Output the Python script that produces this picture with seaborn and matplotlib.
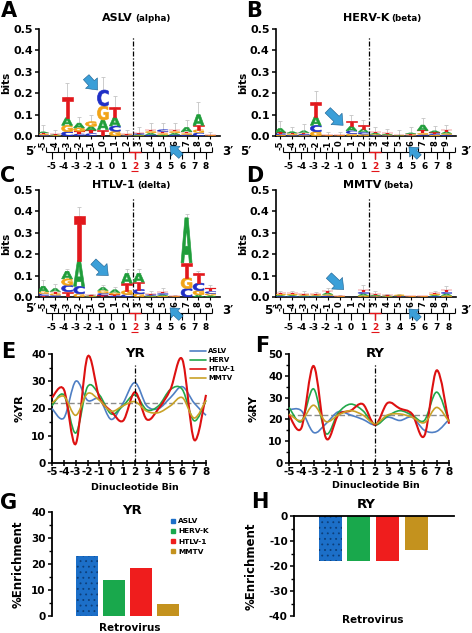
"""
Retroviral integration site preferences: sequence logos (A-D),
dinucleotide frequency profiles (E-F) and YR / RY enrichment (G-H).
"""

import numpy as np
import pandas as pd
import matplotlib
matplotlib.use("Agg")
import matplotlib.pyplot as plt
import seaborn as sns
from matplotlib.font_manager import FontProperties
from matplotlib.lines import Line2D
from matplotlib.patches import PathPatch
from matplotlib.path import Path
from matplotlib.textpath import TextPath
from matplotlib.transforms import Affine2D
from matplotlib.ticker import MultipleLocator

# -----------------------------
# Data
# -----------------------------

POSITIONS = list(range(-5, 10))
BINS = list(range(-5, 9))
BASES = ["A", "C", "G", "T"]
HIGHLIGHT_BIN = 2

# letter heights (bits) per logo position, -5 .. 9
ASLV_A = [0.006, 0.003, 0.035, 0.022, 0.018, 0.045, 0.040, 0.002, 0.004, 0.008, 0.006, 0.008, 0.020, 0.050, 0.001]
ASLV_C = [0.004, 0.002, 0.020, 0.010, 0.012, 0.075, 0.025, 0.002, 0.004, 0.006, 0.010, 0.006, 0.006, 0.015, 0.001]
ASLV_G = [0.005, 0.002, 0.030, 0.016, 0.022, 0.065, 0.022, 0.002, 0.003, 0.008, 0.006, 0.008, 0.006, 0.015, 0.001]
ASLV_T = [0.005, 0.003, 0.095, 0.012, 0.015, 0.030, 0.048, 0.002, 0.004, 0.008, 0.008, 0.008, 0.008, 0.020, 0.001]
ASLV_ERR = [0.05, 0.03, 0.25, 0.09, 0.10, 0.275, 0.185, 0.03, 0.04, 0.06, 0.06, 0.06, 0.075, 0.16, 0.02]

HERVK_A = [0.018, 0.008, 0.010, 0.040, 0.001, 0.001, 0.020, 0.015, 0.006, 0.004, 0.002, 0.005, 0.025, 0.008, 0.008]
HERVK_C = [0.006, 0.004, 0.005, 0.030, 0.001, 0.001, 0.015, 0.010, 0.004, 0.003, 0.001, 0.003, 0.006, 0.006, 0.006]
HERVK_G = [0.005, 0.004, 0.004, 0.020, 0.001, 0.001, 0.010, 0.008, 0.004, 0.003, 0.001, 0.003, 0.008, 0.005, 0.006]
HERVK_T = [0.006, 0.005, 0.006, 0.070, 0.001, 0.001, 0.025, 0.017, 0.006, 0.004, 0.002, 0.004, 0.012, 0.006, 0.010]
HERVK_ERR = [0.07, 0.04, 0.055, 0.21, 0.02, 0.02, 0.10, 0.075, 0.04, 0.035, 0.03, 0.04, 0.085, 0.045, 0.05]

HTLV_A = [0.025, 0.015, 0.035, 0.120, 0.003, 0.015, 0.015, 0.045, 0.040, 0.004, 0.006, 0.001, 0.210, 0.010, 0.008]
HTLV_C = [0.008, 0.008, 0.030, 0.035, 0.002, 0.010, 0.006, 0.012, 0.020, 0.004, 0.006, 0.001, 0.040, 0.035, 0.010]
HTLV_G = [0.010, 0.008, 0.030, 0.015, 0.002, 0.012, 0.008, 0.018, 0.015, 0.003, 0.005, 0.001, 0.050, 0.020, 0.008]
HTLV_T = [0.007, 0.009, 0.025, 0.210, 0.003, 0.008, 0.006, 0.035, 0.035, 0.004, 0.008, 0.001, 0.070, 0.045, 0.014]
HTLV_ERR = [0.08, 0.06, 0.13, 0.42, 0.015, 0.055, 0.045, 0.13, 0.13, 0.03, 0.04, 0.01, 0.39, 0.12, 0.055]

MMTV_A = [0.005, 0.005, 0.004, 0.004, 0.008, 0.001, 0.0, 0.008, 0.004, 0.003, 0.003, 0.001, 0.001, 0.005, 0.008]
MMTV_C = [0.004, 0.004, 0.003, 0.003, 0.006, 0.001, 0.0, 0.008, 0.003, 0.002, 0.002, 0.001, 0.001, 0.004, 0.008]
MMTV_G = [0.005, 0.005, 0.004, 0.004, 0.006, 0.001, 0.0, 0.007, 0.003, 0.002, 0.003, 0.001, 0.001, 0.005, 0.007]
MMTV_T = [0.006, 0.006, 0.004, 0.004, 0.010, 0.001, 0.0, 0.012, 0.005, 0.003, 0.002, 0.001, 0.001, 0.006, 0.012]
MMTV_ERR = [0.03, 0.03, 0.03, 0.025, 0.04, 0.01, 0.0, 0.055, 0.03, 0.015, 0.015, 0.005, 0.005, 0.03, 0.05]

# %YR / %RY per dinucleotide bin, -5 .. 8
LINE_LABELS = ["ASLV", "HERV", "HTLV-1", "MMTV"]
YR_ASLV = [20, 16.5, 30, 23, 23.5, 16, 22, 29.5, 21, 20, 24, 28, 22, 17.5]
YR_HERV = [21, 25, 11, 28, 25, 18, 21, 25, 19.5, 21, 27, 27, 15.5, 23]
YR_HTLV = [24, 27, 7, 39, 24, 19, 15.5, 26, 16, 20, 27, 38, 8.5, 25]
YR_MMTV = [22, 24.5, 17.5, 25.5, 23, 19, 21, 22.5, 19, 18.5, 21, 24, 16.5, 23]
YR_BASELINE = 22

RY_ASLV = [24.5, 24, 14, 18, 23.5, 22, 20, 17.5, 21, 19.5, 21, 15, 14.5, 20]
RY_HERV = [25.5, 19, 34, 13.5, 23, 27, 24, 17.5, 21.5, 24, 22, 19.5, 32.5, 19]
RY_HTLV = [22, 16, 44.5, 11.5, 22, 24, 27, 17.5, 27.5, 25, 22.5, 12.5, 42.5, 18]
RY_MMTV = [22.5, 19.5, 26.5, 19, 22, 24, 22, 18, 22, 22.5, 21, 18.5, 25.5, 19]
RY_BASELINE = 22

# % enrichment at the target bin
VIRUSES = ["ASLV", "HERV-K", "HTLV-1", "MMTV"]
YR_ENRICH = [23.1, 13.8, 18.6, 4.8]
RY_ENRICH = [-18.0, -18.0, -18.0, -13.7]

# -----------------------------
# Style
# -----------------------------

W, H = 472, 633
RED = "#e3151a"
LETTER_COLORS = {"A": "#1f9d3a", "C": "#1f2fc6", "G": "#f2a417", "T": "#e2181c"}
LINE_COLORS = ["#4f7fc4", "#22a84a", "#dd1111", "#c9a227"]
BAR_COLORS = ["#1c6fc8", "#19a84c", "#ef1d1d", "#c4921e"]
ARROW_FC, ARROW_EC = "#3b9fd8", "#1b5f8f"
DASHDOT = (0, (4, 1.5, 1, 1.5))

sns.set_theme(style="ticks", rc={
    "axes.edgecolor": "black", "xtick.color": "black", "ytick.color": "black",
    "text.color": "black", "axes.labelcolor": "black",
})
plt.rcParams["font.family"] = ["DejaVu Sans"]
plt.rcParams["font.weight"] = "bold"
plt.rcParams["axes.labelweight"] = "bold"
plt.rcParams["axes.unicode_minus"] = False
plt.rcParams["hatch.linewidth"] = 0.6

LETTER_FONT = FontProperties(family="DejaVu Sans", weight="bold")
LETTER_WIDTH = 0.92


def fig_box(left, top, right, bottom):
    """Axes rectangle from pixel edges (origin top-left)."""
    return [left / W, 1 - bottom / H, (right - left) / W, (bottom - top) / H]


def fig_xy(x, y):
    return x / W, 1 - y / H


# -----------------------------
# Sequence logos
# -----------------------------

def add_letter(ax, letter, x, y0, height):
    path = TextPath((0, 0), letter, size=1, prop=LETTER_FONT)
    ext = path.get_extents()
    trans = (Affine2D().translate(-ext.x0, -ext.y0)
             .scale(LETTER_WIDTH / ext.width, height / ext.height)
             .translate(x - LETTER_WIDTH / 2, y0))
    color = LETTER_COLORS[letter]
    # thin stroke in the fill colour makes the larger glyphs read as heavy type
    stroke = 0.45 if height > 0.015 else 0.15
    ax.add_patch(PathPatch(trans.transform_path(path), facecolor=color,
                           edgecolor=color, lw=stroke, zorder=3))


def draw_logo(ax, heights, err_top, arrow):
    totals = np.zeros(len(POSITIONS))
    for i, pos in enumerate(POSITIONS):
        column = sorted((heights[b][i], b) for b in BASES)
        y0 = 0.0
        for h, b in column:
            if h > 0:
                add_letter(ax, b, pos, y0, h)
            y0 += h
        totals[i] = y0
    upper = np.clip(np.asarray(err_top) - totals, 0, None)
    ax.errorbar(POSITIONS, totals, yerr=[np.zeros_like(totals), upper], fmt="none",
                ecolor="#c4c4c4", elinewidth=0.6, capsize=1.2, capthick=0.6, zorder=2)

    ax.set_xlim(-5.35, 9.8)
    ax.set_ylim(0, 0.5)
    ax.set_yticks(np.arange(0, 0.51, 0.1))
    ax.set_yticklabels([f"{v:.1f}" for v in np.arange(0, 0.51, 0.1)])
    ax.set_xticks(POSITIONS)
    ax.set_xticklabels([str(p) for p in POSITIONS])
    ax.tick_params(axis="x", length=2, width=0.8, pad=1, labelsize=6, labelrotation=90)
    ax.tick_params(axis="y", length=3, width=1.1, pad=1.5, labelsize=8)
    ax.set_ylabel("bits", fontsize=7.5, labelpad=1)
    for side in ["top", "right"]:
        ax.spines[side].set_visible(False)
    for side in ["left", "bottom"]:
        ax.spines[side].set_linewidth(1.2)

    # boundary between position 2 and 3, runs down into the bracket row
    ax.plot([2.5, 2.5], [-0.045, 0.465], color="black", lw=0.9, ls=DASHDOT, clip_on=False)

    tail, head = arrow
    ax.annotate("", xy=head, xytext=tail,
                arrowprops=dict(arrowstyle="simple,head_length=0.55,head_width=0.95,tail_width=0.45",
                                fc=ARROW_FC, ec=ARROW_EC, lw=0.4, shrinkA=0, shrinkB=0),
                annotation_clip=False)


def draw_brackets(bx):
    edges = np.array(BINS + [BINS[-1] + 1]) - 0.5
    kw = dict(color="black", lw=0.8, clip_on=False)
    bx.vlines(edges, 1, 6, **kw)
    bx.hlines(6, edges[0], edges[-1], **kw)
    bx.vlines(BINS, 6, 13, **kw)
    red = dict(color=RED, lw=1.0, clip_on=False, zorder=3)
    bx.hlines(6, HIGHLIGHT_BIN - 0.5, HIGHLIGHT_BIN + 0.5, **red)
    bx.vlines([HIGHLIGHT_BIN], 6, 13, **red)
    for b in BINS:
        bx.text(b, 21.5, str(b), ha="center", va="center", fontsize=6.5,
                color=RED if b == HIGHLIGHT_BIN else "black")
    bx.hlines(26, HIGHLIGHT_BIN - 0.3, HIGHLIGHT_BIN + 0.3, color=RED, lw=0.8, clip_on=False)
    bx.set_xlim(BINS[0], BINS[-1])
    bx.set_ylim(27, 0)
    bx.axis("off")


def bracket_arrow(fig, tail, head):
    fig.add_artist(matplotlib.patches.FancyArrowPatch(
        fig_xy(*tail), fig_xy(*head), transform=fig.transFigure,
        arrowstyle="simple,head_length=0.55,head_width=0.95,tail_width=0.45",
        mutation_scale=10, fc=ARROW_FC, ec=ARROW_EC, lw=0.4))


# -----------------------------
# Dinucleotide profiles
# -----------------------------

def smooth_path(xs, ys):
    """Cubic Bezier path passing through each data point (spline-style rendering)."""
    pts = np.column_stack([xs, ys]).astype(float)
    padded = np.vstack([pts[0], pts, pts[-1]])
    verts, codes = [pts[0]], [Path.MOVETO]
    for i in range(len(pts) - 1):
        p0, p1, p2, p3 = padded[i], padded[i + 1], padded[i + 2], padded[i + 3]
        verts += [p1 + (p2 - p0) / 6, p2 - (p3 - p1) / 6, p2]
        codes += [Path.CURVE4] * 3
    return Path(verts, codes)


def draw_profile(ax, series, baseline, ymax, title, ylabel, line_top):
    ax.axhline(baseline, color="#8c8c8c", lw=1.0, ls=(0, (4, 2)), zorder=1)
    for ys, color in zip(series, LINE_COLORS):
        lw = 1.5 if color == LINE_COLORS[2] else 1.2
        ax.add_patch(PathPatch(smooth_path(BINS, ys), fill=False, edgecolor=color,
                               lw=lw, clip_on=False, zorder=3))
    ax.plot([HIGHLIGHT_BIN, HIGHLIGHT_BIN], [0, line_top], color="black", lw=0.9, ls=DASHDOT, zorder=4)
    ax.text(HIGHLIGHT_BIN, ymax * 1.005, title, ha="center", va="center", fontsize=9.5)

    ax.set_xlim(BINS[0], BINS[-1])
    ax.set_ylim(0, ymax)
    ax.set_xticks(BINS)
    ax.yaxis.set_major_locator(MultipleLocator(10))
    ax.yaxis.set_minor_locator(MultipleLocator(5))
    ax.tick_params(axis="x", direction="inout", length=5, width=1.1, pad=0.5, labelsize=7.5)
    ax.tick_params(axis="y", which="major", length=3, width=1.1, pad=1.5, labelsize=7.5)
    ax.tick_params(axis="y", which="minor", length=2, width=1.0)
    ax.set_ylabel(ylabel, fontsize=8)
    for side in ["top", "right"]:
        ax.spines[side].set_visible(False)
    for side in ["left", "bottom"]:
        ax.spines[side].set_linewidth(1.3)


# -----------------------------
# Enrichment bars
# -----------------------------

def draw_enrichment(ax, values):
    df = pd.DataFrame({"virus": VIRUSES, "value": values})
    sns.barplot(data=df, x="virus", y="value", hue="virus", order=VIRUSES, hue_order=VIRUSES,
                palette=dict(zip(VIRUSES, BAR_COLORS)), saturation=1, width=0.8,
                legend=False, ax=ax, linewidth=0)
    bar = ax.patches[0]
    bar.set_hatch("...")
    bar.set_edgecolor("#0d3f7a")
    bar.set_linewidth(0)
    ax.set_xticks([])
    ax.set_xlabel("")
    ax.set_ylabel("%Enrichment", fontsize=8.5)
    ax.yaxis.set_major_locator(MultipleLocator(10))
    ax.yaxis.set_minor_locator(MultipleLocator(5))
    ax.tick_params(axis="y", which="major", length=3, width=1.1, pad=1.5, labelsize=7.5)
    ax.tick_params(axis="y", which="minor", length=2, width=1.0)
    for side in ax.spines:
        ax.spines[side].set_visible(False)
    ax.spines["left"].set_visible(True)
    ax.spines["left"].set_linewidth(1.3)


# -----------------------------
# Main
# -----------------------------

def main() -> None:
    fig = plt.figure(figsize=(W / 100, H / 100), dpi=100)

    logos = [
        (fig_box(39, 29, 220, 136), {"A": ASLV_A, "C": ASLV_C, "G": ASLV_G, "T": ASLV_T}, ASLV_ERR,
         ((-1.4, 0.275), (-0.45, 0.215))),
        (fig_box(276, 29, 456, 136), {"A": HERVK_A, "C": HERVK_C, "G": HERVK_G, "T": HERVK_T}, HERVK_ERR,
         ((-1.0, 0.12), (0.3, 0.05))),
        (fig_box(39, 190, 220, 297), {"A": HTLV_A, "C": HTLV_C, "G": HTLV_G, "T": HTLV_T}, HTLV_ERR,
         ((-0.8, 0.165), (0.45, 0.10))),
        (fig_box(276, 190, 456, 297), {"A": MMTV_A, "C": MMTV_C, "G": MMTV_G, "T": MMTV_T}, MMTV_ERR,
         ((-0.9, 0.10), (0.35, 0.035))),
    ]
    for box, heights, err, arrow in logos:
        draw_logo(fig.add_axes(box), heights, err, arrow)

    for box in [fig_box(52, 146, 206, 172), fig_box(289, 146, 449, 172),
                fig_box(52, 307, 206, 333), fig_box(289, 307, 449, 333)]:
        draw_brackets(fig.add_axes(box))

    for tail, head in [((183, 158), (168, 144)), ((421, 159), (407, 145)),
                       ((183, 320), (168, 306)), ((421, 321), (407, 307))]:
        bracket_arrow(fig, tail, head)

    for x, y, s in [(31, 151, "5\u2032"), (228, 151, "3\u2032"), (246, 151, "5\u2032"), (466, 151, "3\u2032"),
                    (31, 308, "5\u2032"), (228, 310, "3\u2032"), (270, 310, "5\u2032"), (466, 311, "3\u2032")]:
        fig.text(*fig_xy(x, y), s, ha="center", va="center", fontsize=8.5)

    # logo titles: name + subfamily in smaller type
    for x, y, name, sub in [(133, 21, "ASLV", "(alpha)"), (389, 21, "HERV-K", "(beta)"),
                            (135, 188, "HTLV-1", "(delta)"), (381, 188, "MMTV", "(beta)")]:
        fig.text(*fig_xy(x, y), name, ha="right", va="baseline", fontsize=8)
        fig.text(*fig_xy(x + 2, y), sub, ha="left", va="baseline", fontsize=6.3)

    # E / F profiles
    ax_e = fig.add_axes(fig_box(52, 354, 206, 463))
    draw_profile(ax_e, [YR_ASLV, YR_HERV, YR_HTLV, YR_MMTV], YR_BASELINE, 40, "YR", "%YR", 36)
    ax_e.yaxis.set_label_coords(-0.175, 0.5)
    handles = [Line2D([], [], color=c, lw=1.2) for c in LINE_COLORS]
    ax_e.legend(handles, LINE_LABELS, loc="upper left", bbox_to_anchor=fig_xy(190, 348),
                bbox_transform=fig.transFigure, frameon=False, fontsize=5, handlelength=2.3,
                handletextpad=0.3, labelspacing=0.45, borderpad=0, borderaxespad=0)

    ax_f = fig.add_axes(fig_box(289, 354, 449, 463))
    draw_profile(ax_f, [RY_ASLV, RY_HERV, RY_HTLV, RY_MMTV], RY_BASELINE, 50, "RY", "%RY", 46)
    ax_f.yaxis.set_label_coords(-0.19, 0.5)

    fig.text(*fig_xy(135, 487), "Dinucleotide Bin", ha="center", va="center", fontsize=6.8)
    fig.text(*fig_xy(376, 485), "Dinucleotide Bin", ha="center", va="center", fontsize=6.8)

    # G / H enrichment
    ax_g = fig.add_axes(fig_box(52, 512, 215, 616))
    draw_enrichment(ax_g, YR_ENRICH)
    ax_g.set_ylim(0, 40)
    ax_g.set_xlim(-1.3, 4.75)
    ax_g.yaxis.set_label_coords(-0.165, 0.5)
    sq = [Line2D([], [], marker="s", ls="", color=c, markersize=3.3) for c in BAR_COLORS]
    ax_g.legend(sq, VIRUSES, loc="upper left", bbox_to_anchor=fig_xy(171, 518),
                bbox_transform=fig.transFigure, frameon=False, fontsize=5.3, handlelength=0.6,
                handletextpad=0.4, labelspacing=0.55, borderpad=0, borderaxespad=0)
    fig.text(*fig_xy(132, 510), "YR", ha="center", va="center", fontsize=9.5)
    fig.text(*fig_xy(130, 628), "Retrovirus", ha="center", va="center", fontsize=7.5)

    ax_h = fig.add_axes(fig_box(294, 516, 454, 616))
    draw_enrichment(ax_h, RY_ENRICH)
    ax_h.set_ylim(-40, 0)
    ax_h.set_xlim(-1.25, 4.3)
    ax_h.spines["top"].set_visible(True)
    ax_h.spines["top"].set_linewidth(1.3)
    ax_h.set_yticks([0, -10, -20, -30, -40])
    ax_h.set_yticklabels(["0", "-10", "-20", "-30", "-40"])
    ax_h.yaxis.set_label_coords(-0.225, 0.5)
    fig.text(*fig_xy(366, 505), "RY", ha="center", va="center", fontsize=9.5)
    fig.text(*fig_xy(373, 620), "Retrovirus", ha="center", va="center", fontsize=7.5)

    # panel letters
    for x, y, s in [(1, 1, "A"), (246, 1, "B"), (0, 166, "C"), (246, 166, "D"),
                    (1, 342, "E"), (255, 336, "F"), (0, 493, "G"), (251, 492, "H")]:
        fig.text(*fig_xy(x, y), s, ha="left", va="top", fontsize=15)

    fig.savefig("out.png", dpi=100)
    plt.close(fig)


if __name__ == "__main__":
    main()
